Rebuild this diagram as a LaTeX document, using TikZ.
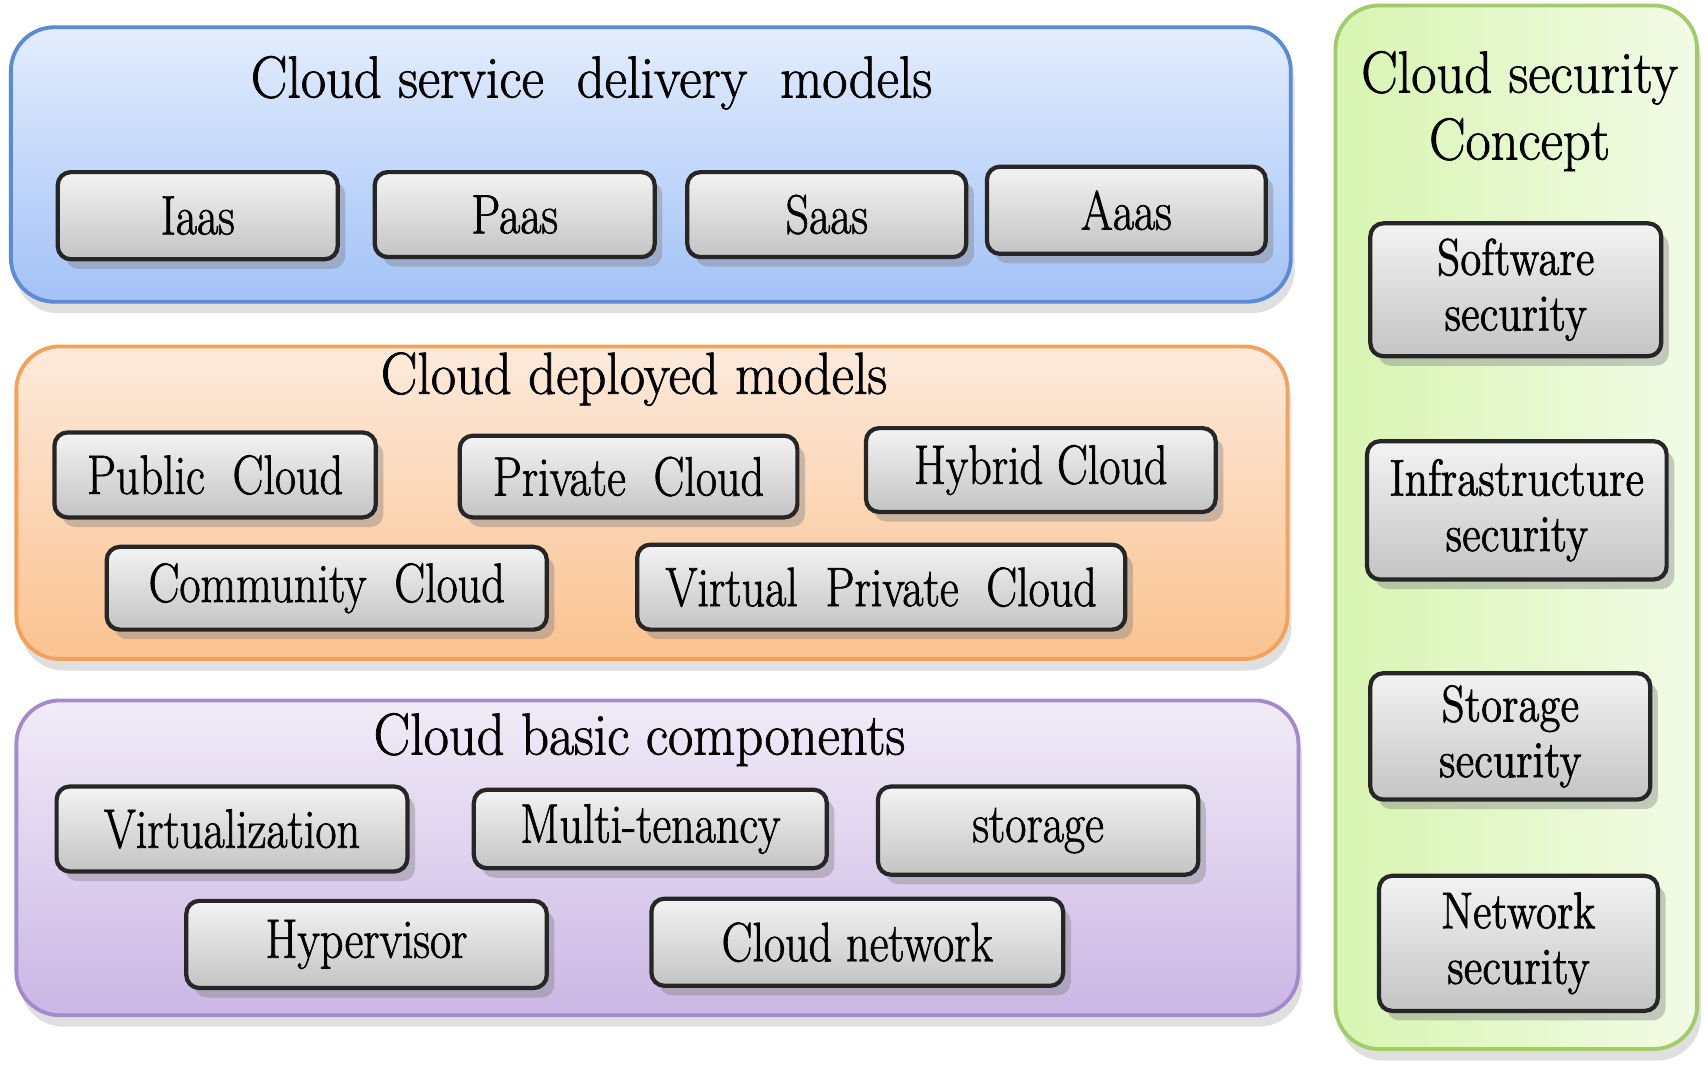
\documentclass[tikz,border=0pt]{standalone}
\usepackage{fontspec}
\newfontfamily\diagfont{Latin Modern Roman}[FakeStretch=0.92, FakeBold=1.2]
\newfontfamily\btnfont{Latin Modern Roman}[FakeStretch=0.83, FakeBold=1.2]
\usetikzlibrary{positioning,shadows}

\definecolor{bluetop}{HTML}{E3EDFD}
\definecolor{bluebot}{HTML}{A3C2F7}
\definecolor{blueline}{HTML}{5B8BD6}
\definecolor{orangetop}{HTML}{FDEADC}
\definecolor{orangebot}{HTML}{FAC28F}
\definecolor{orangeline}{HTML}{F5A15A}
\definecolor{purpletop}{HTML}{F1ECF7}
\definecolor{purplebot}{HTML}{CBB6E5}
\definecolor{purpleline}{HTML}{A58ACB}
\definecolor{greenleft}{HTML}{D8F5B1}
\definecolor{greenright}{HTML}{F2FBE6}
\definecolor{greenline}{HTML}{A1CC67}
\definecolor{btntop}{HTML}{F3F3F3}
\definecolor{btnbot}{HTML}{C4C4C4}

\begin{document}
\begin{tikzpicture}[
  panel/.style={rectangle, rounded corners=0.4cm, line width=1pt, inner sep=0pt,
    drop shadow={shadow xshift=1pt, shadow yshift=-3pt, opacity=.25}},
  btn/.style={rectangle, rounded corners=0.12cm, draw=black!85, line width=1.1pt,
    top color=btntop, bottom color=btnbot, inner sep=0pt, align=center,
    drop shadow={shadow xshift=2pt, shadow yshift=-2.5pt, opacity=.4},
    font=\btnfont\fontsize{14.5}{15}\selectfont},
  secbtn/.style={btn, font=\btnfont\fontsize{13.5}{14.5}\selectfont},
  title/.style={font=\diagfont\fontsize{15.5}{17.5}\selectfont, align=center}
]
\useasboundingbox (0,0) rectangle (15.68,-9.80);

% panels
\node[panel, draw=blueline, top color=bluetop, bottom color=bluebot,
  minimum width=11.75cm, minimum height=2.52cm] (delivery) at (5.975,-1.51) {};
\node[panel, draw=orangeline, top color=orangetop, bottom color=orangebot,
  minimum width=11.67cm, minimum height=2.87cm] (deployed) at (5.985,-4.615) {};
\node[panel, draw=purpleline, top color=purpletop, bottom color=purplebot,
  minimum width=11.77cm, minimum height=2.89cm] (basic) at (6.035,-7.875) {};
\node[panel, draw=greenline, left color=greenleft, right color=greenright,
  minimum width=3.32cm, minimum height=9.58cm] (security) at (13.92,-4.84) {};

% titles
\node[title] (deliverytitle) at (5.43,-0.76) {Cloud service\ \ delivery\ \ models};
\node[title] (deployedtitle) at (5.82,-3.48) {Cloud deployed models};
\node[title] (basictitle) at (5.87,-6.79) {Cloud basic components};
\node[title] (securitytitle) at (13.95,-1.02) {Cloud security\\Concept};

% delivery models
\node[btn, minimum width=2.57cm, minimum height=0.80cm] (iaas) at (1.815,-1.98) {Iaas};
\node[btn, minimum width=2.57cm, minimum height=0.78cm] (paas) at (4.725,-1.97) {Paas};
\node[btn, minimum width=2.56cm, minimum height=0.78cm] (saas) at (7.59,-1.97) {Saas};
\node[btn, minimum width=2.56cm, minimum height=0.80cm] (aaas) at (10.34,-1.93) {Aaas};

% deployed models
\node[btn, minimum width=2.95cm, minimum height=0.78cm] (public) at (1.975,-4.36) {Public\ \ Cloud};
\node[btn, minimum width=3.10cm, minimum height=0.75cm] (private) at (5.77,-4.375) {Private\ \ Cloud};
\node[btn, minimum width=3.21cm, minimum height=0.77cm] (hybrid) at (9.555,-4.315) {Hybrid Cloud};
\node[btn, minimum width=4.04cm, minimum height=0.76cm] (community) at (3.0,-5.40) {Community\ \ Cloud};
\node[btn, minimum width=4.48cm, minimum height=0.78cm] (vpc) at (8.09,-5.39) {Virtual\ \ Private\ \ Cloud};

% basic components
\node[btn, minimum width=3.22cm, minimum height=0.78cm] (virt) at (2.13,-7.61) {Virtualization};
\node[btn, minimum width=3.24cm, minimum height=0.72cm] (tenancy) at (5.97,-7.61) {Multi-tenancy};
\node[btn, minimum width=2.94cm, minimum height=0.81cm] (storage) at (9.53,-7.625) {storage};
\node[btn, minimum width=3.31cm, minimum height=0.80cm] (hyper) at (3.365,-8.67) {Hypervisor};
\node[btn, minimum width=3.78cm, minimum height=0.80cm] (network) at (7.87,-8.65) {Cloud network};

% security concept
\node[secbtn, minimum width=2.67cm, minimum height=1.22cm] (softsec) at (13.915,-2.66) {Software\\security};
\node[secbtn, minimum width=2.75cm, minimum height=1.27cm] (infrasec) at (13.925,-4.685) {Infrastructure\\security};
\node[secbtn, minimum width=2.57cm, minimum height=1.16cm] (storsec) at (13.865,-6.76) {Storage\\security};
\node[secbtn, minimum width=2.56cm, minimum height=1.24cm] (netsec) at (13.94,-8.66) {Network\\security};
\end{tikzpicture}
\end{document}
